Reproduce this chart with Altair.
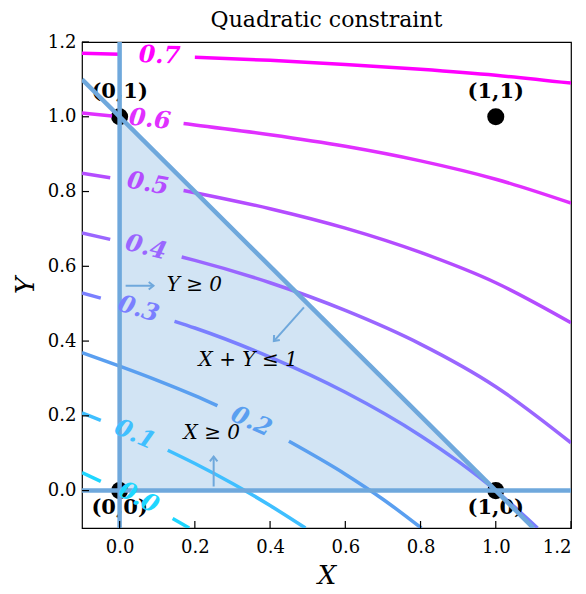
import altair as alt
import pandas as pd

# ---------------- data ----------------
LEVELS = ["0.0", "0.1", "0.2", "0.3", "0.4", "0.5", "0.6", "0.7"]
LEVEL_COLORS = ["#1ed6ff", "#3fbfff", "#5a9ff0", "#7a7fff", "#9a66ff", "#b44cff", "#e030ff", "#ff00ff"]

# contour lines, split where the inline labels sit (list of segments per level)
C_X = {
    "0.0": [[-0.1, -0.05], [0.141, 0.185]],
    "0.1": [[-0.1, -0.05], [0.128, 0.2, 0.3, 0.4, 0.494]],
    "0.2": [[-0.1, 0.0, 0.1, 0.2, 0.26], [0.45, 0.6, 0.7, 0.802]],
    "0.3": [[-0.1, -0.05], [0.146, 0.2, 0.4, 0.6, 0.8, 0.9, 1.0, 1.111]],
    "0.4": [[-0.1, -0.025], [0.165, 0.2, 0.4, 0.6, 0.8, 1.0, 1.2]],
    "0.5": [[-0.1, -0.025], [0.17, 0.2, 0.4, 0.6, 0.8, 1.0, 1.2]],
    "0.6": [[-0.1, -0.02], [0.17, 0.2, 0.4, 0.6, 0.8, 1.0, 1.2]],
    "0.7": [[-0.1, 0.0], [0.2, 0.4, 0.6, 0.8, 1.0, 1.2]],
}
C_Y = {
    "0.0": [[0.048, 0.0245], [-0.0747, -0.1]],
    "0.1": [[0.208, 0.188], [0.108, 0.0725, 0.019, -0.040, -0.1]],
    "0.2": [[0.369, 0.333, 0.295, 0.254, 0.227], [0.132, 0.044, -0.023, -0.1]],
    "0.3": [[0.529, 0.515], [0.453, 0.435, 0.357, 0.263, 0.147, 0.078, 0.0, -0.1]],
    "0.4": [[0.689, 0.672], [0.625, 0.616, 0.556, 0.482, 0.392, 0.278, 0.128]],
    "0.5": [[0.849, 0.837], [0.803, 0.797, 0.754, 0.702, 0.637, 0.556, 0.449]],
    "0.6": [[1.010, 1.002], [0.982, 0.978, 0.952, 0.921, 0.882, 0.833, 0.769]],
    "0.7": [[1.170, 1.167], [1.159, 1.151, 1.140, 1.127, 1.111, 1.090]],
}

# inline contour labels
LAB_X = [0.05, 0.04, 0.35, 0.05, 0.07, 0.075, 0.08, 0.106]
LAB_Y = [-0.02, 0.149, 0.184, 0.485, 0.650, 0.820, 0.992, 1.163]
LAB_ANGLE = [27, 24, 24, 17, 14, 10, 6, 2]

# corner points
PT_X = [0, 1, 0, 1]
PT_Y = [0, 0, 1, 1]
PT_LABEL = ["(0,0)", "(1,0)", "(0,1)", "(1,1)"]

# feasible triangle
TRI_X = [0.0, 1.0]
TRI_Y = [1.0, 0.0]

# constraint lines (x, y endpoints)
CON_ID = ["x0", "x0", "y0", "y0", "sum", "sum"]
CON_X = [0.0, 0.0, -0.1, 1.2, -0.1, 1.1]
CON_Y = [-0.1, 1.2, 0.0, 0.0, 1.1, -0.1]

# arrows (start -> end)
AR_X0 = [0.016, 0.25, 0.49]
AR_Y0 = [0.548, 0.011, 0.49]
AR_X1 = [0.09, 0.25, 0.41]
AR_Y1 = [0.548, 0.091, 0.40]
AR_ANGLE = [0, 270, 131]

# constraint annotations
ANN_TEXT = ["Y \u2265 0", "X + Y \u2264 1", "X \u2265 0"]
ANN_X = [0.125, 0.21, 0.17]
ANN_Y = [0.55, 0.35, 0.155]

TICKS = [0.0, 0.2, 0.4, 0.6, 0.8, 1.0, 1.2]
TITLE = "Quadratic constraint"

# ---------------- build tables ----------------
rows = []
for lev in LEVELS:
    for si, (xs_, ys_) in enumerate(zip(C_X[lev], C_Y[lev])):
        for k, (xv, yv) in enumerate(zip(xs_, ys_)):
            rows.append({"level": lev, "seg": f"{lev}-{si}", "k": k, "x": xv, "y": yv})
contours = pd.DataFrame(rows)
labels = pd.DataFrame({"level": LEVELS, "x": LAB_X, "y": LAB_Y, "angle": LAB_ANGLE})
pts = pd.DataFrame({"x": PT_X, "y": PT_Y, "label": PT_LABEL})
pts_top = pts[pts["y"] == 1]
pts_bot = pts[pts["y"] == 0]
tri = pd.DataFrame({"x": TRI_X, "y": TRI_Y, "y2": [0.0, 0.0]})
cons = pd.DataFrame({"id": CON_ID, "x": CON_X, "y": CON_Y})
arrow_rows = []
for i in range(len(AR_X0)):
    arrow_rows.append({"id": i, "k": 0, "x": AR_X0[i], "y": AR_Y0[i]})
    arrow_rows.append({"id": i, "k": 1, "x": AR_X1[i], "y": AR_Y1[i]})
arrows = pd.DataFrame(arrow_rows)
heads = pd.DataFrame({"x": AR_X1, "y": AR_Y1, "angle": AR_ANGLE})
ann = pd.DataFrame({"t": ANN_TEXT, "x": ANN_X, "y": ANN_Y})
ticks = pd.DataFrame({"v": TICKS})

W, H = 489, 486
FONT = "'DejaVu Serif', 'Liberation Serif', serif"
BLUE = "#6fa8dc"

xs = alt.Scale(domain=[-0.1, 1.2], nice=False, zero=False)
ys = alt.Scale(domain=[-0.1, 1.2], nice=False, zero=False)
xax = alt.Axis(values=TICKS, format=".1f", title="X", ticks=False, domain=False,
               grid=False, labelPadding=10, titlePadding=6)
yax = alt.Axis(values=TICKS, format=".1f", title="Y", ticks=False, domain=False,
               grid=False, labelPadding=6, titlePadding=9)

X = alt.X("x:Q", scale=xs, axis=xax)
Y = alt.Y("y:Q", scale=ys, axis=yax)

fill = alt.Chart(tri).mark_area(color="#d2e4f4", opacity=1, clip=True).encode(
    x=X, y=Y, y2="y2:Q")

points = alt.Chart(pts).mark_point(filled=True, color="black", size=290, opacity=1).encode(
    x="x:Q", y="y:Q")

lines = alt.Chart(contours).mark_line(strokeWidth=3.5, interpolate="monotone", clip=True).encode(
    x="x:Q", y="y:Q", detail="seg:N", order="k:Q",
    color=alt.Color("level:N", scale=alt.Scale(domain=LEVELS, range=LEVEL_COLORS), legend=None))

constraint = alt.Chart(cons).mark_line(color=BLUE, strokeWidth=4.5, clip=True).encode(
    x="x:Q", y="y:Q", detail="id:N")

arrow_lines = alt.Chart(arrows).mark_line(color=BLUE, strokeWidth=2).encode(
    x="x:Q", y="y:Q", detail="id:N", order="k:Q")

arrow_heads = alt.Chart(heads).mark_point(
    shape="M-1,-0.8L0,0L-1,0.8", filled=False, color=BLUE, strokeWidth=2, size=90, opacity=1
).encode(x="x:Q", y="y:Q", angle=alt.Angle("angle:Q", scale=None))

lab_top = alt.Chart(pts_top).mark_text(font=FONT, fontSize=21, fontWeight="bold",
                                       color="black", baseline="middle", dy=-25).encode(
    x="x:Q", y="y:Q", text="label:N")
lab_bot = alt.Chart(pts_bot).mark_text(font=FONT, fontSize=21, fontWeight="bold",
                                       color="black", baseline="middle", dy=17).encode(
    x="x:Q", y="y:Q", text="label:N")

contour_labels = alt.Chart(labels).mark_text(font=FONT, fontSize=24, fontWeight="bold",
                                            fontStyle="italic", baseline="middle").encode(
    x="x:Q", y="y:Q", text="level:N", angle=alt.Angle("angle:Q", scale=None),
    color=alt.Color("level:N", scale=alt.Scale(domain=LEVELS, range=LEVEL_COLORS), legend=None))

annotations = alt.Chart(ann).mark_text(font=FONT, fontSize=20, fontStyle="italic",
                                       color="black", align="left", baseline="middle").encode(
    x="x:Q", y="y:Q", text="t:N")

title = alt.Chart(pd.DataFrame({"t": [TITLE]})).mark_text(
    font=FONT, fontSize=22, color="black", baseline="middle", align="center"
).encode(x=alt.value(W / 2), y=alt.value(-22), text="t:N")

xticks = alt.Chart(ticks).mark_rule(color="black", strokeWidth=1.2).encode(
    x="v:Q", y=alt.value(H), y2=alt.value(H - 7))
yticks = alt.Chart(ticks).mark_rule(color="black", strokeWidth=1.2).encode(
    y=alt.Y("v:Q"), x=alt.value(0), x2=alt.value(7))

chart = alt.layer(
    fill, points, lines, lab_top, lab_bot, constraint, arrow_lines, arrow_heads,
    contour_labels, annotations, xticks, yticks, title
).properties(
    width=W, height=H,
    autosize=alt.AutoSizeParams(type="none"),
    padding={"left": 74, "top": 34, "right": 7, "bottom": 66},
).configure_view(
    stroke="black", strokeWidth=1.2
).configure_axis(
    labelFont=FONT, labelFontSize=18, labelColor="black",
    titleFont=FONT, titleFontSize=26, titleFontStyle="italic",
    titleFontWeight="normal", titleColor="black"
)

chart.save("out.html", embed_options={"renderer": "svg", "actions": False})
